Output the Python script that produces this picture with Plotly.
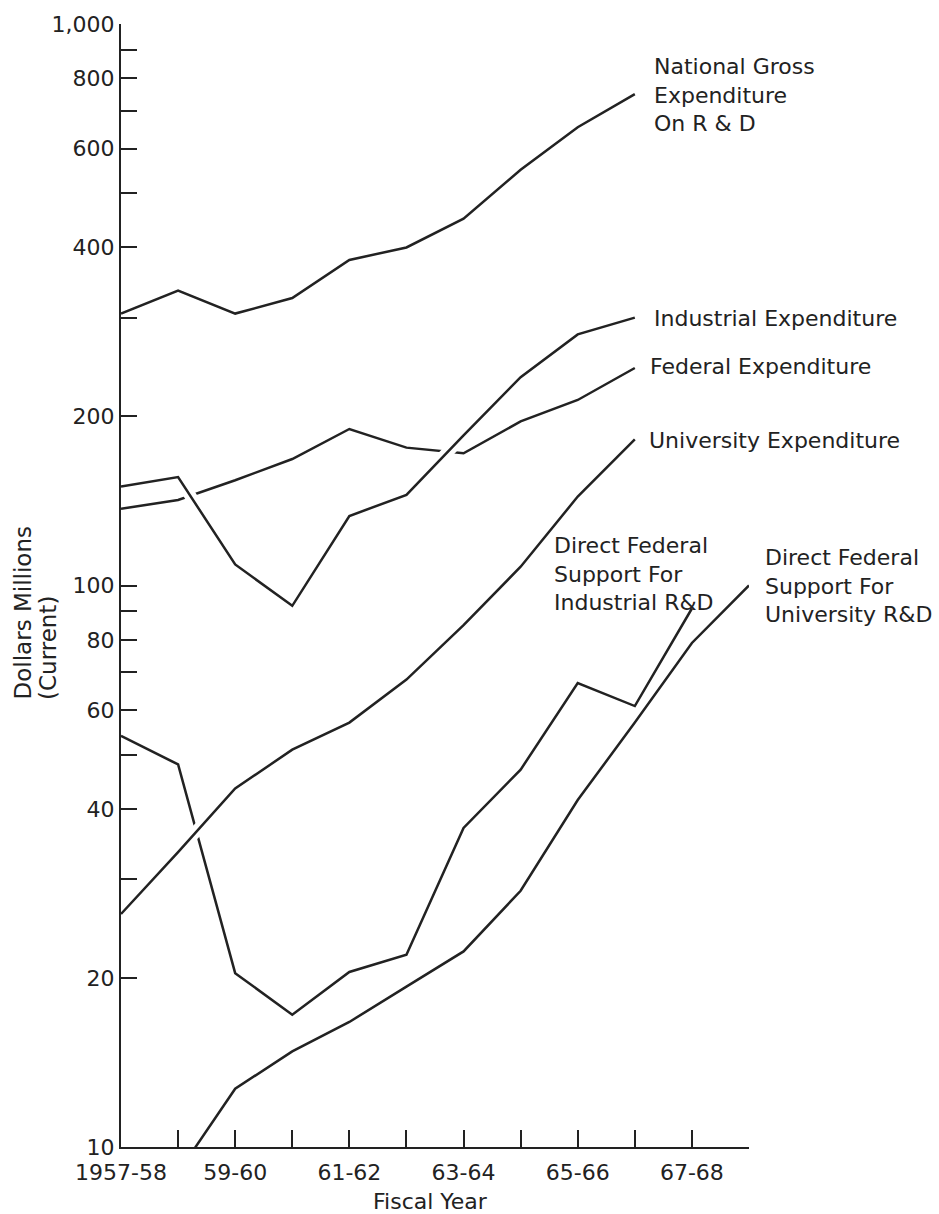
import plotly.graph_objects as go

# Fiscal years on the horizontal axis
fiscal_years = ["1957-58", "1958-59", "1959-60", "1960-61", "1961-62", "1962-63",
                "1963-64", "1964-65", "1965-66", "1966-67", "1967-68", "1968-69"]
year_tick_text = ["1957-58", "", "59-60", "", "61-62", "", "63-64", "", "65-66", "", "67-68", ""]

# Expenditure series, dollars millions (current)
national_gross = [305, 335, 305, 325, 380, 400, 450, 550, 655, 750, None, None]
industrial = [150, 156, 109, 92, 133, 145, 185, 235, 280, 300, None, None]
federal = [137, 142, 154, 168, 190, 176, 172, 196, 214, 244, None, None]
university = [26, 33.5, 43.5, 51, 57, 68, 85, 108, 144, 182, None, None]
fed_support_industrial = [54, 48, 20.4, 17.2, 20.5, 22, 37, 47, 67, 61, 91, None]
fed_support_university = [None, 9.0, 12.7, 14.8, 16.7, 19.3, 22.3, 28.6, 41.5, 57, 79, 100]

# Log-scale ticks and their labels
y_tick_vals = [10, 20, 30, 40, 50, 60, 70, 80, 90, 100, 200, 300, 400, 500, 600, 700, 800, 900, 1000]
y_tick_text = ["10", "20", "", "40", "", "60", "", "80", "", "100", "200", "", "400", "",
               "600", "", "800", "", "1,000"]

INK = "#222222"
FONT = "DejaVu Sans"
W, H = 939, 1214
M_L, M_R, M_T, M_B = 121, 190, 19, 67
PW, PH = W - M_L - M_R, H - M_T - M_B


def px_x(px):
    return (px - M_L) / PW


def px_y(py):
    return (H - M_B - py) / PH


fig = go.Figure()


def add_line(values, halo=False):
    if halo:
        # white band underneath so crossing lines show a break
        fig.add_trace(go.Scatter(x=fiscal_years, y=values, mode="lines",
                                 line=dict(color="white", width=12),
                                 hoverinfo="skip", showlegend=False))
    fig.add_trace(go.Scatter(x=fiscal_years, y=values, mode="lines",
                             line=dict(color=INK, width=2.5),
                             showlegend=False))


add_line(national_gross)
add_line(federal)
add_line(industrial, halo=True)
add_line(fed_support_industrial)
add_line(university, halo=True)
add_line(fed_support_university)

labels = [
    ("National Gross<br>Expenditure<br>On R & D", 652, 90),
    ("Industrial Expenditure", 652, 315),
    ("Federal Expenditure", 648, 363),
    ("University Expenditure", 647, 437),
    ("Direct Federal<br>Support For<br>Industrial R&D", 552, 571),
    ("Direct Federal<br>Support For<br>University R&D", 763, 583),
]
annotations = []
for text, lx, ly in labels:
    annotations.append(dict(text=text, x=px_x(lx), y=px_y(ly), xref="paper", yref="paper",
                            xanchor="left", yanchor="middle", align="left", showarrow=False,
                            font=dict(family=FONT, size=22, color=INK)))

# vertical axis title, two rotated lines
annotations.append(dict(text="Dollars Millions", x=px_x(23), y=px_y(700), xref="paper", yref="paper",
                        xanchor="center", yanchor="bottom", textangle=-90, showarrow=False,
                        font=dict(family=FONT, size=23, color=INK)))
annotations.append(dict(text="(Current)", x=px_x(48), y=px_y(700), xref="paper", yref="paper",
                        xanchor="center", yanchor="bottom", textangle=-90, showarrow=False,
                        font=dict(family=FONT, size=23, color=INK)))
annotations.append(dict(text="Fiscal Year", x=px_x(430), y=px_y(1202), xref="paper", yref="paper",
                        xanchor="center", yanchor="middle", showarrow=False,
                        font=dict(family=FONT, size=22, color=INK)))

fig.update_layout(
    width=W, height=H, autosize=False,
    margin=dict(l=M_L, r=M_R, t=M_T, b=M_B, pad=0),
    plot_bgcolor="white", paper_bgcolor="white",
    showlegend=False,
    font=dict(family=FONT, color=INK),
    annotations=annotations,
)
fig.update_xaxes(
    type="category", categoryorder="array", categoryarray=fiscal_years,
    range=[0, 11], tickmode="array", tickvals=fiscal_years, ticktext=year_tick_text,
    ticks="inside", ticklen=17, tickwidth=2, tickcolor=INK,
    showline=True, linecolor=INK, linewidth=2,
    showgrid=False, zeroline=False, ticklabelstandoff=5,
    tickfont=dict(family=FONT, size=22, color=INK),
)
fig.update_yaxes(
    type="log", range=[1, 3], tickmode="array", tickvals=y_tick_vals, ticktext=y_tick_text,
    ticks="inside", ticklen=16, tickwidth=2, tickcolor=INK,
    showline=True, linecolor=INK, linewidth=2,
    showgrid=False, zeroline=False,
    tickfont=dict(family=FONT, size=22, color=INK),
)

fig.write_html("out.html")
